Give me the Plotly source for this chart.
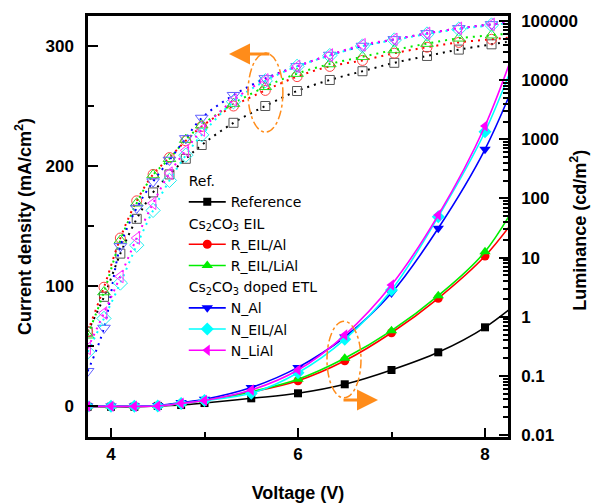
import plotly.graph_objects as go

# ---------------- data ----------------
# Current density (mA/cm^2), dotted lines with open markers, left axis
V_J = [3.75, 3.925, 4.1, 4.275, 4.45, 4.625, 4.8, 4.97, 5.31, 5.65, 5.99,
       6.34, 6.69, 7.03, 7.38, 7.72, 8.07, 8.4]
J_ref = [62, 91, 127, 156, 178, 193, 206, 217.5, 236, 250, 262.5, 271.7,
         279, 286, 291.7, 297, 301.4, 305.5]
J_r_al = [62, 99, 140, 171, 193, 207, 221, 233, 250, 263, 274.5, 283, 288,
          294, 299, 303, 305.6, 308]
J_r_lial = [59, 95, 138, 169, 192.5, 206, 222, 234, 252, 266, 277, 285, 291,
            296.7, 302, 306.4, 309, 311.5]
J_n_al = [29, 65, 133, 165, 187, 205, 223, 240, 259, 273, 283, 292.5, 300,
          305.5, 310.5, 314.7, 318, 321]
J_n_eil = [45, 73, 102.5, 134, 163, 188, 209, 226, 253.6, 271, 283, 292, 300,
           305, 310, 314, 317.5, 320.5]
J_n_lial = [48, 77.5, 108, 140, 169, 194, 213, 230, 255, 271.7, 283, 292.5,
            301, 305.5, 310.5, 314.7, 318, 321]

# Luminance (cd/m^2), solid lines with filled markers, right (log) axis
V_L = [3.75, 4, 4.25, 4.5, 4.75, 5, 5.5, 6, 6.5, 7, 7.5, 8, 8.5]
L_ref = [0.030, 0.030, 0.030, 0.031, 0.0321, 0.0347, 0.0417, 0.0507, 0.072,
         0.1256, 0.25, 0.662, 2.73]
L_r_al = [0.0305, 0.0305, 0.0305, 0.031, 0.0342, 0.0383, 0.0533, 0.0828,
          0.180, 0.536, 2.05, 10.6, 110]
L_r_lial = [0.031, 0.031, 0.031, 0.0315, 0.0343, 0.0386, 0.0539, 0.0874,
            0.198, 0.58, 2.27, 12.6, 240]
L_n_al = [0.031, 0.031, 0.031, 0.0315, 0.0354, 0.0401, 0.0635, 0.139, 0.454,
          2.52, 31.3, 676, 46800]
L_n_eil = [0.0305, 0.0305, 0.0305, 0.031, 0.0342, 0.0383, 0.0507, 0.113,
           0.415, 2.83, 49.1, 1343, 131000]
L_n_lial = [0.0305, 0.0305, 0.0305, 0.031, 0.0343, 0.0383, 0.0576, 0.1256,
            0.49, 3.44, 52.4, 1678, 235000]

names = ["Reference", "R_EIL/Al", "R_EIL/LiAl", "N_Al", "N_EIL/Al", "N_LiAl"]
groups = ["ref", "eil", "eil", "etl", "etl", "etl"]
group_titles = {"ref": "Ref.",
                "eil": "Cs<sub>2</sub>CO<sub>3</sub> EIL",
                "etl": "Cs<sub>2</sub>CO<sub>3</sub> doped ETL"}
J_series = [J_ref, J_r_al, J_r_lial, J_n_al, J_n_eil, J_n_lial]
L_series = [L_ref, L_r_al, L_r_lial, L_n_al, L_n_eil, L_n_lial]

x_tickvals = [4, 6, 8]
y_tickvals = [0, 100, 200, 300]
y2_tickvals = [0.01, 0.1, 1, 10, 100, 1000, 10000, 100000]
y2_ticktext = ["0.01", "0.1", "1", "10", "100", "1000", "10000", "100000"]

# ---------------- styles ----------------
colors = ["#000000", "#FF0000", "#00EE00", "#0000FF", "#00FFFF", "#FF00FF"]
open_colors = ["#555555", "#FF4040", "#22DD22", "#6060FF", "#22EEEE", "#FF33FF"]
open_symbols = ["square-open", "circle-open", "triangle-up-open",
                "triangle-down-open", "diamond-open", "triangle-left-open"]
open_sizes = [9, 10, 11, 11, 11, 11]
fill_symbols = ["square", "circle", "triangle-up", "triangle-down",
                "diamond", "triangle-left"]
fill_sizes = [8, 9, 10, 10, 10, 10]

FONT = "Arial, Liberation Sans, sans-serif"
LEG_FONT = "DejaVu Sans, Arial, sans-serif"

fig = go.Figure()

for i in range(6):
    fig.add_trace(go.Scatter(
        x=V_J, y=J_series[i], mode="lines+markers", yaxis="y",
        line=dict(color=colors[i], width=2, dash="2px,5px", shape="spline"),
        marker=dict(symbol=open_symbols[i], size=open_sizes[i],
                    color=open_colors[i], line=dict(width=1, color=open_colors[i])),
        showlegend=False, hoverinfo="skip"))

for i in range(6):
    tr = dict(
        x=V_L, y=L_series[i], mode="lines+markers", yaxis="y2",
        name=names[i], legendgroup=groups[i],
        line=dict(color=colors[i], width=1.6, shape="spline"),
        marker=dict(symbol=fill_symbols[i], size=fill_sizes[i], color=colors[i]),
    )
    if i in (0, 1, 3):
        tr["legendgrouptitle"] = dict(text=group_titles[groups[i]],
                                      font=dict(family=LEG_FONT, size=14, color="black"))
    fig.add_trace(go.Scatter(**tr))

axis_common = dict(showgrid=False, zeroline=False, showline=True, automargin=False,
                   linecolor="black", linewidth=2.5, ticks="inside",
                   tickcolor="black", tickwidth=2,
                   tickfont=dict(family=FONT, size=17, color="black", weight="bold"))

fig.update_layout(
    width=591, height=503,
    margin=dict(l=88, r=83, t=16, b=66, autoexpand=False),
    paper_bgcolor="white", plot_bgcolor="white",
    font=dict(family=FONT, color="black"),
    xaxis=dict(range=[3.754, 8.246], tickmode="array", tickvals=x_tickvals,
               ticklen=9, mirror=True, ticklabelstandoff=0,
               minor=dict(ticks="inside", ticklen=5, tickwidth=2, dtick=1, tick0=0,
                          tickcolor="black"),
               title=dict(text="Voltage (V)", standoff=24,
                          font=dict(family=FONT, size=18, weight="bold")),
               **axis_common),
    yaxis=dict(range=[-25.8, 325], tickmode="array", tickvals=y_tickvals,
               ticklen=10, ticklabelstandoff=8,
               minor=dict(ticks="inside", ticklen=6, tickwidth=2, dtick=50, tick0=0,
                          tickcolor="black"),
               title=dict(text="Current density (mA/cm<sup>2</sup>)", standoff=10,
                          font=dict(family=FONT, size=18, weight="bold")),
               **axis_common),
    yaxis2=dict(overlaying="y", side="right", type="log",
                range=[-2.034, 5.085], tickmode="array",
                tickvals=y2_tickvals, ticktext=y2_ticktext, ticklen=9,
                ticklabelstandoff=7,
                minor=dict(ticks="inside", ticklen=5, tickwidth=1.5, dtick="D1",
                           tickcolor="black"),
                **axis_common),
    legend=dict(x=0.228, y=0.646, xanchor="left", yanchor="top",
                bgcolor="rgba(0,0,0,0)", tracegroupgap=0, itemwidth=37,
                font=dict(family=LEG_FONT, size=14, color="black"),
                traceorder="grouped"),
    showlegend=True,
)

# right axis title as an annotation (placed beside the shorter tick labels)
fig.add_annotation(text="<b>Luminance (cd/m<sup>2</sup>)</b>", xref="paper", yref="paper",
                   x=1.169, y=0.492, textangle=-90, showarrow=False,
                   font=dict(family=FONT, size=18, color="black"),
                   xanchor="center", yanchor="middle")

# orange dash-dot ellipses and arrows
ORANGE = "#FF8C1A"
fig.add_shape(type="circle", xref="paper", yref="paper",
              x0=0.381, x1=0.464, y0=0.724, y1=0.912,
              line=dict(color=ORANGE, width=1.5, dash="dashdot"))
fig.add_shape(type="circle", xref="paper", yref="paper",
              x0=0.569, x1=0.650, y0=0.093, y1=0.275,
              line=dict(color=ORANGE, width=1.5, dash="dashdot"))
fig.add_annotation(xref="paper", yref="paper", x=(229 - 88) / 420, y=(437 - 54) / 421,
                   ax=42, ay=0, showarrow=True, arrowhead=2, arrowsize=1.4,
                   arrowwidth=3, arrowcolor=ORANGE, text="")
fig.add_annotation(xref="paper", yref="paper", x=(378 - 88) / 420, y=(437 - 400) / 421,
                   ax=-36, ay=0, showarrow=True, arrowhead=2, arrowsize=1.4,
                   arrowwidth=3, arrowcolor=ORANGE, text="")

# remove the browser's default 8px body margin so the figure sits at the page origin
fig.write_html("out.html", include_plotlyjs=True,
               config={"displayModeBar": False},
               post_script="document.body.style.margin='0px';")
